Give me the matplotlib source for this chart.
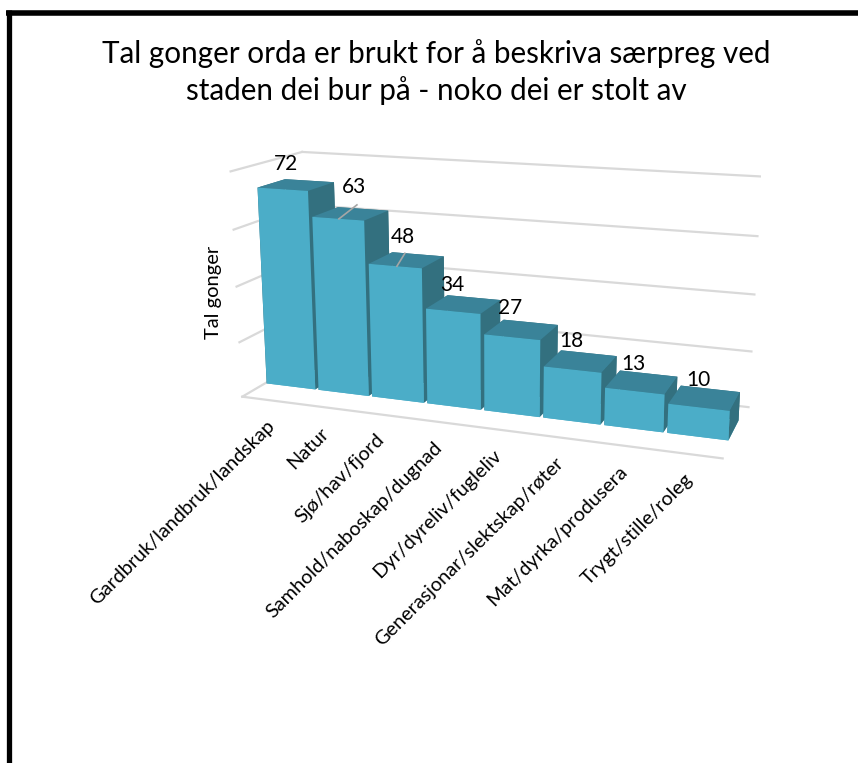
import numpy as np
import matplotlib
matplotlib.use("Agg")
import matplotlib.pyplot as plt
from matplotlib.lines import Line2D
from mpl_toolkits.mplot3d import proj3d

categories = ["Gardbruk/landbruk/landskap", "Natur", "Sjø/hav/fjord", "Samhold/naboskap/dugnad",
              "Dyr/dyreliv/fugleliv", "Generasjonar/slektskap/røter", "Mat/dyrka/produsera", "Trygt/stille/roleg"]
values = [72, 63, 48, 34, 27, 18, 13, 10]
z_ticks = [0, 20, 40, 60, 80]

title = "Tal gonger orda er brukt for å beskriva særpreg ved\nstaden dei bur på - noko dei er stolt av"
ylabel = "Tal gonger"

W, H = 858, 763
FONT = "Lato"
FRONT, TOP, SIDE, GRID = "#4BADC8", "#3A8399", "#33707F", "#D9D9D9"

# view fitted to the corners of the reference
AX_LEFT, AX_BOTTOM, AX_SIZE = 208.3, 188.6, 552.9
BAR_START, BAR_PITCH, BAR_W = 0.0282, 0.9983, 0.9365
BAR_Y0, BAR_Y1 = 0.3182, 0.7084

# pixel offsets of the value labels from the back edge of each bar top
label_dx = [-23, -9, -15, -21, -20, -17, -15, -12]
label_dy = [17, 22, 17, 13, 14, 12, 10, 9]

plt.rcParams["font.family"] = [FONT, "DejaVu Sans"]

fig = plt.figure(figsize=(W / 100, H / 100), dpi=100)
ax = fig.add_axes([AX_LEFT / W, AX_BOTTOM / H, AX_SIZE / W, AX_SIZE / H], projection="3d")
ax.view_init(elev=14.2189, azim=-69.8935, roll=0.0214)
ax.set_proj_type("persp", focal_length=0.4221)
ax.set_box_aspect((1, 0.2958, 0.4725))
ax.set_xlim(0, 8, view_margin=0)
ax.set_ylim(0, 1, view_margin=0)
ax.set_zlim(0, 80, view_margin=0)
ax.set_axis_off()
ax.patch.set_alpha(0)
ax.computed_zorder = False

# walls and floor
for z in z_ticks:
    ax.plot([0, 8], [1, 1], [z, z], color=GRID, lw=1.6, zorder=1)
    ax.plot([0, 0], [0, 1], [z, z], color=GRID, lw=1.6, zorder=1)
ax.plot([0, 8], [0, 0], [0, 0], color=GRID, lw=1.6, zorder=1)

x = BAR_START + BAR_PITCH * np.arange(len(values))
# bar3d face order: bottom, top, front, back, left, right
face_colors = [FRONT, TOP, FRONT, SIDE, SIDE, SIDE] * len(values)
ax.bar3d(x, BAR_Y0, 0, BAR_W, BAR_Y1 - BAR_Y0, values, color=face_colors, shade=False, zorder=2)


def to_2d(px, py, pz):
    u, v, _ = proj3d.proj_transform(px, py, pz, ax.get_proj())
    return u, v


for i, val in enumerate(values):
    xy = to_2d(x[i] + BAR_W / 2, BAR_Y1, val)
    ax.annotate(str(val), xy=xy, xytext=(label_dx[i], label_dy[i]), textcoords="offset pixels",
                ha="center", va="center", fontsize=15, color="black", zorder=5, annotation_clip=False)

# leader lines of the two labels that sit away from their bars
for i, (d0, d1) in {1: ((-24, -10), (-6, 4)), 2: ((-21, -12), (-13, 1))}.items():
    xy = to_2d(x[i] + BAR_W / 2, BAR_Y1, values[i])
    p = ax.transData.transform(xy)
    fig.add_artist(Line2D([p[0] + d0[0], p[0] + d1[0]], [p[1] + d0[1], p[1] + d1[1]],
                          transform=None, color="#A6A6A6", lw=1.2, zorder=6))

# category labels, their ends follow the front edge of the floor
for i, name in enumerate(categories):
    xy = to_2d(x[i] + BAR_W / 2, 0, 0)
    ax.annotate(name, xy=xy, xytext=(3, -23), textcoords="offset pixels", rotation=45, rotation_mode="anchor",
                ha="right", va="center", fontsize=14.3, color="black", annotation_clip=False)

fig.text(436 / W, 1 - 72 / H, title, ha="center", va="center", fontsize=21.3, color="black", linespacing=1.33)
fig.text(214 / W, 1 - 292 / H, ylabel, rotation=90, ha="center", va="center", fontsize=14.5, color="black")

# outer frame of the picture, cut by the image edge
fig.add_artist(Line2D([8.5 / W, 8.5 / W], [0, 1 - 10 / H], color="black", lw=3.8, solid_capstyle="butt"))
fig.add_artist(Line2D([6 / W, 1], [1 - 13 / H, 1 - 13 / H], color="black", lw=4.0, solid_capstyle="butt"))

fig.savefig("out.png", dpi=100)
